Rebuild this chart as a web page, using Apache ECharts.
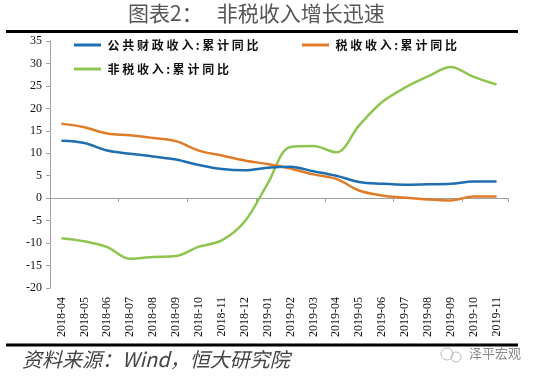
<!DOCTYPE html>
<html>
<head>
<meta charset="utf-8">
<script src="https://cdn.jsdelivr.net/npm/echarts@6/dist/echarts.min.js"></script>
<style>
html,body{margin:0;padding:0;background:#fff;}
#c{width:538px;height:381px;}
</style>
</head>
<body>
<div id="c"></div>
<script>
const categories = ['2018-04','2018-05','2018-06','2018-07','2018-08','2018-09','2018-10','2018-11','2018-12','2019-01','2019-02','2019-03','2019-04','2019-05','2019-06','2019-07','2019-08','2019-09','2019-10','2019-11'];
const publicRevenue = [12.8, 12.3, 10.6, 9.9, 9.3, 8.6, 7.4, 6.5, 6.2, 6.8, 7.0, 6.0, 5.0, 3.6, 3.2, 3.0, 3.1, 3.2, 3.7, 3.7];
const taxRevenue = [16.6, 15.8, 14.4, 14.0, 13.4, 12.7, 10.6, 9.5, 8.4, 7.6, 6.6, 5.3, 4.3, 1.7, 0.6, 0.1, -0.3, -0.5, 0.4, 0.4];
const nonTaxRevenue = [-8.9, -9.6, -10.9, -13.5, -13.1, -12.9, -10.8, -9.4, -5.2, 3.2, 11.4, 11.6, 10.2, 16.2, 21.4, 24.6, 27.1, 29.2, 27.0, 25.3];
const yTicks = {min: -20, max: 35, interval: 5};
const names = ['公共财政收入:累计同比', '税收收入:累计同比', '非税收入:累计同比'];
const colors = ['#1f6fb0', '#e07b28', '#8dc54f'];

const chart = echarts.init(document.getElementById('c'), null, {renderer: 'canvas'});
const cjkFont = '"Noto Sans CJK SC", sans-serif';
const serifFont = 'Liberation Serif';
function spaced(name) {
  return name.split('').map(function (c) { return c === ':' ? '{p|' + c + '}' : '{c|' + c + '}'; }).join('');
}
function legend(name, left, top) {
  return {data: [name], left: left, top: top, icon: 'rect', itemWidth: 27, itemHeight: 3, itemGap: 5, padding: 0,
    formatter: spaced,
    textStyle: {fontSize: 12, fontWeight: 'bold', color: '#111', fontFamily: cjkFont,
      rich: {c: {width: 14.8, align: 'center', fontSize: 12, fontWeight: 'bold', fontFamily: cjkFont, color: '#111'},
             p: {width: 6, align: 'center', fontSize: 12, fontWeight: 'bold', fontFamily: cjkFont, color: '#111'}}}};
}
chart.setOption({
  animation: false,
  backgroundColor: '#fff',
  color: colors,
  legend: [legend(names[0], 74, 39), legend(names[1], 302, 39), legend(names[2], 74, 63)],
  grid: {left: 50, right: 30, top: 41, bottom: 93, containLabel: false},
  xAxis: [
    {type: 'category', data: categories, boundaryGap: true,
     axisLine: {show: false, onZero: false}, axisTick: {show: false},
     axisLabel: {rotate: 90, margin: 9, fontSize: 12, color: '#111', fontFamily: serifFont, interval: 0}},
    {type: 'category', data: categories, boundaryGap: true, position: 'bottom',
     axisLine: {show: true, onZero: true, lineStyle: {color: '#a0a0a0', width: 1}},
     axisTick: {show: true, length: 4, inside: false, lineStyle: {color: '#a0a0a0'}},
     axisLabel: {show: false}}
  ],
  yAxis: {type: 'value', min: yTicks.min, max: yTicks.max, interval: yTicks.interval,
    axisLine: {show: true, lineStyle: {color: '#a0a0a0', width: 1}},
    axisTick: {show: true, length: 4, lineStyle: {color: '#a0a0a0'}},
    splitLine: {show: false},
    axisLabel: {margin: 8, fontSize: 12, color: '#111', fontFamily: serifFont}},
  series: [
    {name: names[0], type: 'line', data: publicRevenue, smooth: 0.35, symbol: 'none', lineStyle: {width: 2.5, color: colors[0]}, z: 4},
    {name: names[1], type: 'line', data: taxRevenue, smooth: 0.35, symbol: 'none', lineStyle: {width: 2.5, color: colors[1]}, z: 3},
    {name: names[2], type: 'line', data: nonTaxRevenue, smooth: 0.35, symbol: 'none', lineStyle: {width: 2.5, color: colors[2]}, z: 2}
  ],
  graphic: [
    {type: 'text', left: 128, top: 3, style: {text: '图表2：   非税收入增长迅速', fontSize: 21, fill: '#555', fontFamily: cjkFont}},
    {type: 'rect', shape: {x: 6, y: 30, width: 512, height: 3}, style: {fill: '#000'}},
    {type: 'rect', shape: {x: 6, y: 343.5, width: 512, height: 3}, style: {fill: '#000'}},
    {type: 'text', left: 22, top: 349, style: {text: '资料来源：Wind，恒大研究院', fontSize: 20, fontStyle: 'italic', fill: '#444', fontFamily: cjkFont}},
    {type: 'circle', shape: {cx: 447, cy: 354, r: 6}, style: {fill: 'none', stroke: '#bbb', lineWidth: 1}},
    {type: 'circle', shape: {cx: 456, cy: 357, r: 5}, style: {fill: 'none', stroke: '#bbb', lineWidth: 1}},
    {type: 'text', left: 469, top: 347, style: {text: '泽平宏观', fontSize: 13, fill: '#888', fontFamily: cjkFont}}
  ]
});
</script>
</body>
</html>
